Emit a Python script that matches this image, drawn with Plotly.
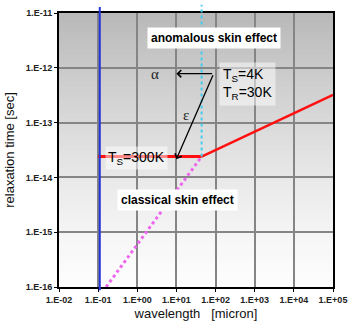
import plotly.graph_objects as go
import math

# ---- data ----
wl_flat = [0.1, 44]
tau_flat = [2.4e-14, 2.4e-14]
wl_anom = [44, 1e5]
tau_anom = [2.4e-14, 3.2e-13]
wl_class = [0.16, 44]
tau_class = [1e-16, 2.4e-14]
wl_cut = [44, 44]
tau_cut = [2.4e-14, 1e-11]
wl_blue = [0.11, 0.11]
tau_blue = [1e-16, 1e-11]

x_ticks = [1e-2, 1e-1, 1e0, 1e1, 1e2, 1e3, 1e4, 1e5]
x_labels = ["1.E-02", "1.E-01", "1.E+00", "1.E+01", "1.E+02", "1.E+03", "1.E+04", "1.E+05"]
y_ticks = [1e-16, 1e-15, 1e-14, 1e-13, 1e-12, 1e-11]
y_labels = ["1.E-16", "1.E-15", "1.E-14", "1.E-13", "1.E-12", "1.E-11"]

# arrow endpoints (data coords)
alpha_start = (89, 7.8e-13)
alpha_end = (10, 7.8e-13)
eps_end = (10, 2.15e-14)

FONT = "Liberation Sans, Arial, sans-serif"
L = math.log10
YMIN, YMAX = -16, -11

fig = go.Figure()
fig.add_trace(go.Scatter(x=wl_class, y=tau_class, mode="lines",
                         line=dict(color="#ee66ee", width=3, dash="dot")))
fig.add_trace(go.Scatter(x=wl_flat, y=tau_flat, mode="lines",
                         line=dict(color="#ff1111", width=3)))
fig.add_trace(go.Scatter(x=wl_anom, y=tau_anom, mode="lines",
                         line=dict(color="#ff1111", width=2.5)))

# gradient background bands
shapes = []
n = 60
for i in range(n):
    t = (i + 0.5) / n
    v = int(round(253 - (253 - 184) * (t ** 1.3)))
    shapes.append(dict(type="rect", xref="paper", yref="paper",
                       x0=0, x1=1, y0=i / n, y1=min(1.0, (i + 1) / n + 0.006),
                       fillcolor=f"rgb({v},{v},{v})", line=dict(width=0),
                       layer="below"))

def ypaper(val):
    return (L(val) - YMIN) / (YMAX - YMIN)

# vertical marker lines (slightly overshooting the frame as in reference)
shapes.append(dict(type="line", xref="x", yref="paper",
                   x0=wl_cut[0], x1=wl_cut[1],
                   y0=ypaper(tau_cut[0]), y1=1.03,
                   line=dict(color="#44ccee", width=2, dash="dot")))
shapes.append(dict(type="line", xref="x", yref="paper",
                   x0=wl_blue[0], x1=wl_blue[1],
                   y0=ypaper(tau_blue[0]) - 0.012, y1=1.022,
                   line=dict(color="#2233dd", width=2)))

annotations = [
    dict(x=L(alpha_end[0]), y=L(alpha_end[1]), ax=L(alpha_start[0]), ay=L(alpha_start[1]),
         xref="x", yref="y", axref="x", ayref="y", text="", showarrow=True,
         arrowhead=4, arrowsize=1.1, arrowwidth=1.3, arrowcolor="black"),
    dict(x=L(eps_end[0]), y=L(eps_end[1]), ax=L(alpha_start[0]), ay=L(alpha_start[1]),
         xref="x", yref="y", axref="x", ayref="y", text="", showarrow=True,
         arrowhead=4, arrowsize=1.1, arrowwidth=1.3, arrowcolor="black"),
    dict(text="<b>anomalous skin effect</b>", x=0.565, y=0.95, xref="paper", yref="paper",
         showarrow=False, bgcolor="white", borderpad=3,
         font=dict(family=FONT, size=12, color="black")),
    dict(text="<b>classical skin effect</b>", x=0.432, y=0.276, xref="paper", yref="paper",
         showarrow=False, bgcolor="white", borderpad=3,
         font=dict(family=FONT, size=12, color="black")),
    dict(text="α", x=L(2.8), y=L(7.8e-13), xref="x", yref="y", showarrow=False,
         font=dict(family="Liberation Serif, DejaVu Serif", size=15, color="#222")),
    dict(text="ε", x=L(18), y=L(1.4e-13), xref="x", yref="y", showarrow=False,
         font=dict(family="Liberation Serif, DejaVu Serif", size=15, color="#222")),
    dict(text="T<sub>S</sub>=4K<br>T<sub>R</sub>=30K", x=L(125), y=L(5.1e-13),
         xref="x", yref="y", xanchor="left", showarrow=False, align="left",
         bgcolor="rgba(255,255,255,0.5)", borderpad=3,
         font=dict(family=FONT, size=14, color="black")),
    dict(text="T<sub>S</sub>=300K", x=L(0.15), y=L(2.3e-14), xref="x", yref="y",
         xanchor="left", showarrow=False, bgcolor="rgba(255,255,255,0.5)", borderpad=2,
         font=dict(family=FONT, size=14, color="black")),
]

fig.update_layout(
    width=355, height=328,
    margin=dict(l=59, r=18, t=8, b=41),
    paper_bgcolor="white", plot_bgcolor="white",
    showlegend=False,
    font=dict(family=FONT, size=9, color="#222"),
    shapes=shapes,
    annotations=annotations,
    xaxis=dict(type="log", range=[-2, 5], tickvals=x_ticks,
               ticktext=[f"<b>{t}</b>" for t in x_labels],
               showgrid=True, gridcolor="#858585", gridwidth=1.5,
               showline=True, linecolor="black", linewidth=2, mirror=True,
               ticks="outside", ticklen=3, tickcolor="black", zeroline=False,
               tickfont=dict(size=9, color="#222"),
               title=dict(text="wavelength\u00a0\u00a0\u00a0[micron]",
                          font=dict(size=13, color="#111"), standoff=5)),
    yaxis=dict(type="log", range=[YMIN, YMAX], tickvals=y_ticks,
               ticktext=[f"<b>{t}</b>" for t in y_labels],
               showgrid=True, gridcolor="#858585", gridwidth=1.5,
               showline=True, linecolor="black", linewidth=2, mirror=True,
               ticks="outside", ticklen=3, tickcolor="black", zeroline=False,
               tickfont=dict(size=9, color="#222"),
               title=dict(text="relaxation time [sec]", font=dict(size=13, color="#111"), standoff=8)),
)

fig.write_html("out.html")
